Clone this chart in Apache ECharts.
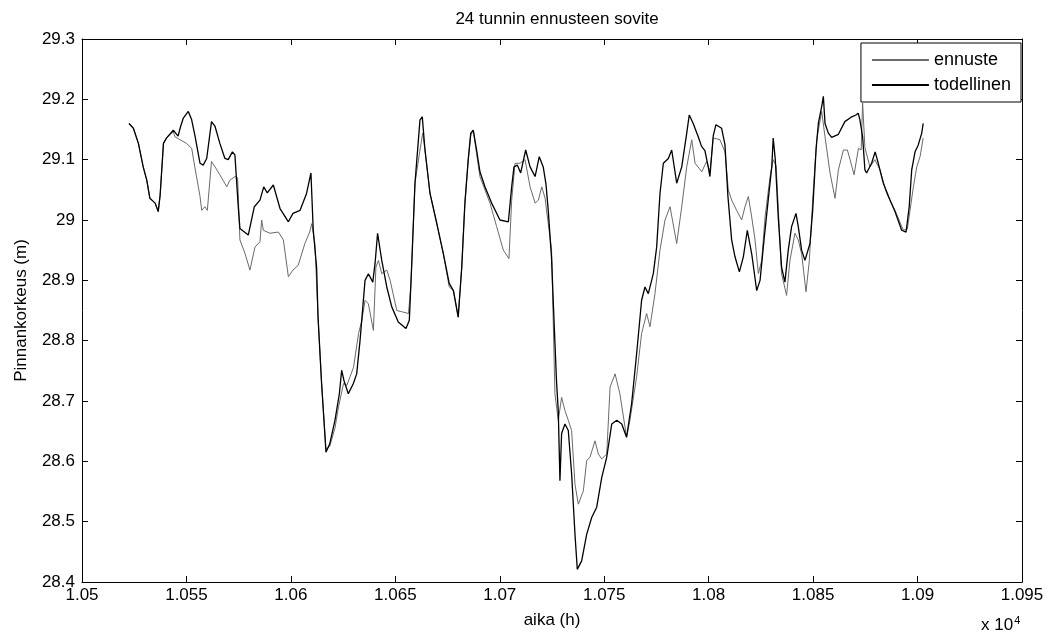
<!DOCTYPE html>
<html>
<head>
<meta charset="utf-8">
<script src="https://cdn.jsdelivr.net/npm/echarts@6/dist/echarts.min.js"></script>
<style>
  html, body { margin: 0; padding: 0; background: #fff; }
  #main { width: 1048px; height: 641px; }
</style>
</head>
<body>
<div id="main"></div>
<script>
// todellinen (measured level)
var actualHours = [
  10522.5, 10524.6, 10527, 10529.3, 10531, 10532.5, 10535, 10536.5, 10537.4, 10539,
  10540.5, 10543.7, 10546, 10547.2, 10548.5, 10550.9, 10552.5, 10554, 10556.5, 10558,
  10559.7, 10562, 10563.7, 10566, 10568.4, 10570, 10572, 10573.2, 10574.8, 10575.6,
  10579.6, 10582.5, 10585.2, 10587, 10588.7, 10591.6, 10594.8, 10598.8, 10601, 10604.4,
  10607.5, 10609.6, 10610.7, 10612.3, 10613, 10614.7, 10616.8, 10618.6, 10621.1, 10623.2,
  10624.3, 10625.4, 10627.5, 10629.9, 10631.5, 10633.1, 10635.5, 10637.1, 10639.2, 10640.3,
  10641.5, 10643.5, 10645.9, 10648.3, 10651.4, 10655.1, 10656.7, 10657.8, 10659.4, 10661.8,
  10662.9, 10664.2, 10666.6, 10669.8, 10673, 10675.8, 10677.8, 10680.1, 10681.8, 10683.3,
  10684.9, 10686.1, 10687.3, 10688.9, 10690.5, 10692.9, 10696.1, 10700.1, 10704.1, 10705.7,
  10706.8, 10708.4, 10710, 10712.4, 10714.5, 10716.9, 10718.9, 10720.8, 10722.1, 10723.2,
  10724.8, 10725.9, 10727.2, 10728, 10728.8, 10729.6, 10731.2, 10732.8, 10734.4, 10736,
  10737.1, 10739.2, 10741.6, 10744, 10746.4, 10748.8, 10751.2, 10753.6, 10756, 10758.4,
  10760.7, 10763.1, 10765.5, 10767.9, 10769.5, 10771.1, 10773.5, 10775.1, 10776.7, 10778.3,
  10780.7, 10782.3, 10784.7, 10787.1, 10789.5, 10790.7, 10792.6, 10795, 10796.6, 10798.2,
  10799.8, 10800.6, 10802.2, 10803.5, 10806.2, 10807.8, 10809.2, 10811, 10812.6, 10814.7,
  10816.6, 10818.5, 10820.6, 10823, 10824.6, 10826.5, 10828.5, 10830.2, 10830.9, 10831.9,
  10833.3, 10834.9, 10836.5, 10838.1, 10839.7, 10841.8, 10842.9, 10844.5, 10846.1, 10848.5,
  10849.8, 10851.4, 10852.5, 10854.1, 10854.9, 10855.7, 10857.3, 10858.9, 10862.1, 10865.2,
  10868.5, 10870.5, 10871.6, 10872.4, 10873.7, 10874.8, 10875.6, 10878, 10879.7, 10881.2,
  10883.6, 10886.8, 10889.2, 10892.4, 10894.5, 10896, 10897.2, 10898.8, 10900.3, 10902,
  10902.7
];
var actualLevel = [
  29.160, 29.152, 29.127, 29.088, 29.066, 29.036, 29.028, 29.014, 29.041, 29.127,
  29.136, 29.149, 29.139, 29.155, 29.169, 29.180, 29.166, 29.141, 29.094, 29.091,
  29.102, 29.163, 29.155, 29.127, 29.102, 29.100, 29.113, 29.108, 29.022, 28.986,
  28.975, 29.022, 29.033, 29.055, 29.045, 29.058, 29.019, 28.997, 29.011, 29.016,
  29.044, 29.078, 28.983, 28.922, 28.839, 28.729, 28.615, 28.629, 28.668, 28.712,
  28.751, 28.734, 28.712, 28.729, 28.745, 28.800, 28.900, 28.911, 28.897, 28.928,
  28.978, 28.933, 28.889, 28.856, 28.831, 28.820, 28.834, 28.922, 29.061, 29.166,
  29.171, 29.116, 29.044, 28.995, 28.944, 28.895, 28.883, 28.839, 28.922, 29.028,
  29.100, 29.144, 29.149, 29.116, 29.080, 29.055, 29.028, 29.000, 28.997, 29.055,
  29.088, 29.091, 29.078, 29.116, 29.088, 29.072, 29.105, 29.088, 29.060, 29.016,
  28.936, 28.839, 28.730, 28.684, 28.568, 28.646, 28.662, 28.651, 28.579, 28.479,
  28.421, 28.435, 28.479, 28.507, 28.524, 28.573, 28.607, 28.662, 28.668, 28.662,
  28.640, 28.695, 28.778, 28.867, 28.889, 28.878, 28.911, 28.955, 29.044, 29.094,
  29.102, 29.116, 29.061, 29.088, 29.144, 29.174, 29.160, 29.138, 29.122, 29.115,
  29.088, 29.072, 29.140, 29.158, 29.152, 29.125, 29.040, 28.967, 28.939, 28.914,
  28.939, 28.983, 28.944, 28.883, 28.900, 28.967, 29.033, 29.088, 29.136, 29.100,
  29.005, 28.922, 28.897, 28.950, 28.989, 29.011, 28.989, 28.950, 28.933, 28.961,
  29.016, 29.116, 29.160, 29.188, 29.205, 29.160, 29.144, 29.137, 29.142, 29.163,
  29.171, 29.174, 29.177, 29.166, 29.138, 29.083, 29.078, 29.094, 29.113, 29.094,
  29.061, 29.033, 29.014, 28.983, 28.980, 29.022, 29.083, 29.113, 29.124, 29.144,
  29.160
];

// ennuste (24 h forecast)
var forecastHours = [
  10522.5, 10524.6, 10527, 10529.3, 10531, 10532.5, 10535, 10536.5, 10537.4, 10539,
  10540.5, 10543.7, 10544.5, 10547, 10550, 10552.5, 10554, 10556.5, 10557.3, 10558.8,
  10560, 10562, 10563.7, 10566, 10569.3, 10570.8, 10573.2, 10574.5, 10575.6, 10578,
  10580.4, 10582.8, 10585.2, 10586, 10586.8, 10590, 10594, 10596.4, 10598.8, 10601,
  10603.5, 10606.7, 10609, 10610, 10611.5, 10613, 10614.7, 10616.8, 10618.6, 10621.1,
  10622.8, 10625.2, 10626.8, 10630, 10632.4, 10634, 10635.5, 10637.1, 10639.5, 10640.7,
  10641.9, 10643.5, 10645.9, 10647.5, 10650.7, 10653.1, 10656.3, 10657.4, 10659.4, 10661.8,
  10663.1, 10664.2, 10666.6, 10669.8, 10673, 10675.8, 10677.8, 10680.1, 10681.8, 10683.3,
  10684.9, 10686.1, 10687.3, 10688.9, 10690.5, 10695.3, 10698.5, 10701.7, 10704.4, 10705.7,
  10707.3, 10709.7, 10712.1, 10714.5, 10716.9, 10718.5, 10720.1, 10721.7, 10722.8, 10724.8,
  10726.4, 10728, 10729.6, 10731.2, 10732.8, 10734.4, 10736, 10737.6, 10740, 10741.6,
  10743.2, 10745.6, 10747.2, 10748.8, 10751.2, 10752.8, 10755.2, 10757.5, 10760.7, 10762.3,
  10765.5, 10767.9, 10770.3, 10771.9, 10774.3, 10776.7, 10779.1, 10781.5, 10784.7, 10787.1,
  10789.5, 10791.9, 10793.5, 10796.7, 10799, 10800.6, 10802.2, 10805.4, 10807.8, 10809.4,
  10811, 10813.4, 10815.8, 10817.4, 10819, 10820.6, 10822.2, 10823.8, 10825.4, 10827,
  10829.4, 10830.9, 10832.3, 10834.9, 10837.3, 10838.9, 10841.3, 10842.9, 10844.5, 10846.6,
  10848.2, 10849.8, 10851.7, 10854.1, 10855.7, 10858.1, 10860.5, 10862.1, 10864.5, 10866.4,
  10867.7, 10869.6, 10871.7, 10873, 10873.7, 10874.8, 10877.2, 10879.6, 10882, 10885.2,
  10889.2, 10893.2, 10895.1, 10896.4, 10898, 10899.6, 10901.2, 10902.7
];
var forecastLevel = [
  29.160, 29.152, 29.127, 29.088, 29.066, 29.036, 29.028, 29.014, 29.041, 29.127,
  29.136, 29.146, 29.138, 29.133, 29.127, 29.119, 29.088, 29.039, 29.016, 29.022,
  29.016, 29.097, 29.088, 29.075, 29.055, 29.066, 29.072, 29.070, 28.967, 28.945,
  28.917, 28.955, 28.964, 29.000, 28.983, 28.978, 28.980, 28.967, 28.906, 28.917,
  28.925, 28.961, 28.980, 28.994, 28.961, 28.839, 28.729, 28.620, 28.625, 28.655,
  28.690, 28.729, 28.726, 28.756, 28.812, 28.834, 28.867, 28.861, 28.817, 28.922,
  28.933, 28.911, 28.917, 28.900, 28.850, 28.848, 28.845, 28.889, 29.061, 29.116,
  29.144, 29.116, 29.044, 28.995, 28.944, 28.889, 28.883, 28.839, 28.922, 29.028,
  29.100, 29.140, 29.149, 29.110, 29.072, 29.028, 28.989, 28.950, 28.936, 29.033,
  29.094, 29.094, 29.100, 29.055, 29.028, 29.033, 29.055, 29.036, 29.005, 28.950,
  28.712, 28.668, 28.706, 28.684, 28.668, 28.651, 28.562, 28.529, 28.551, 28.601,
  28.607, 28.634, 28.612, 28.604, 28.612, 28.723, 28.745, 28.712, 28.640, 28.668,
  28.740, 28.812, 28.845, 28.823, 28.878, 28.950, 29.000, 29.022, 28.961, 29.022,
  29.088, 29.133, 29.094, 29.080, 29.097, 29.080, 29.136, 29.133, 29.113, 29.050,
  29.033, 29.016, 29.000, 29.022, 29.039, 29.005, 28.967, 28.911, 28.933, 29.005,
  29.072, 29.100, 29.090, 28.911, 28.875, 28.933, 28.978, 28.967, 28.944, 28.881,
  28.933, 29.033, 29.133, 29.180, 29.138, 29.078, 29.036, 29.083, 29.116, 29.116,
  29.100, 29.075, 29.119, 29.116, 29.194, 29.120, 29.088, 29.100, 29.083, 29.044,
  29.016, 28.983, 28.985, 29.016, 29.055, 29.088, 29.105, 29.136
];

var fontFam = '"Liberation Sans", Arial, sans-serif'

function pairs(xs, ys) {
  return xs.map(function(x, i) { return [x, ys[i]] })
}

var myChart = echarts.init(document.getElementById('main'), null, { renderer: 'canvas' })

var axisCommon = {
  type: 'value',
  axisLine: { show: true, onZero: false, lineStyle: { color: '#000', width: 1 } },
  axisTick: { show: true, inside: true, length: 6, lineStyle: { color: '#000' } },
  splitLine: { show: false }
}

var option = {
  animation: false,
  backgroundColor: '#fff',
  textStyle: { fontFamily: fontFam },
  title: {
    text: '24 tunnin ennusteen sovite',
    left: 552,
    textAlign: 'center',
    top: 6,
    textStyle: { fontSize: 17, fontWeight: 'normal', color: '#000', fontFamily: fontFam }
  },
  grid: { left: 82, right: 26, top: 39, bottom: 59 },
  legend: {
    data: ['ennuste', 'todellinen'],
    orient: 'vertical',
    right: 27,
    top: 43,
    itemWidth: 57,
    itemHeight: 18,
    itemGap: 7,
    padding: [8, 10, 8, 10],
    borderColor: '#000',
    borderWidth: 1,
    backgroundColor: '#fff',
    itemStyle: { opacity: 0 },
    textStyle: { fontSize: 18, lineHeight: 18, color: '#000', fontFamily: fontFam }
  },
  xAxis: [
    Object.assign({}, axisCommon, {
      position: 'bottom',
      min: 10500, max: 10950, interval: 50,
      name: 'aika (h)', nameLocation: 'middle', nameGap: 30,
      nameTextStyle: { fontSize: 17, color: '#000', fontFamily: fontFam },
      axisLabel: {
        color: '#000', fontSize: 17, margin: 5, fontFamily: fontFam,
        formatter: function(v) { return String(+(v / 10000).toFixed(4)) }
      }
    }),
    Object.assign({}, axisCommon, {
      position: 'top',
      min: 10500, max: 10950, interval: 50,
      axisLabel: { show: false }
    })
  ],
  yAxis: [
    Object.assign({}, axisCommon, {
      position: 'left',
      min: 28.4, max: 29.3, interval: 0.1,
      name: 'Pinnankorkeus (m)', nameLocation: 'middle', nameGap: 52, nameRotate: 90,
      nameTextStyle: { fontSize: 17, color: '#000', fontFamily: fontFam },
      axisLabel: {
        color: '#000', fontSize: 17, margin: 7, fontFamily: fontFam,
        formatter: function(v) { return String(+v.toFixed(1)) }
      }
    }),
    Object.assign({}, axisCommon, {
      position: 'right',
      min: 28.4, max: 29.3, interval: 0.1,
      axisLabel: { show: false }
    })
  ],
  graphic: [{
    type: 'text',
    left: 981,
    top: 615,
    style: {
      text: 'x 10{s|4}',
      font: '17px ' + fontFam,
      fill: '#000',
      rich: { s: { fontSize: 11, verticalAlign: 'top', padding: [0, 0, 10, 1] } }
    }
  }],
  series: [
    {
      name: 'ennuste',
      type: 'line',
      symbol: 'none',
      data: pairs(forecastHours, forecastLevel),
      lineStyle: { color: '#6a6a6a', width: 1 },
      itemStyle: { color: '#6a6a6a' },
      z: 2
    },
    {
      name: 'todellinen',
      type: 'line',
      symbol: 'none',
      data: pairs(actualHours, actualLevel),
      lineStyle: { color: '#000', width: 1.3 },
      itemStyle: { color: '#000' },
      z: 3
    }
  ]
}

myChart.setOption(option)
window.addEventListener('resize', function() {
  myChart.resize()
})
</script>
</body>
</html>
